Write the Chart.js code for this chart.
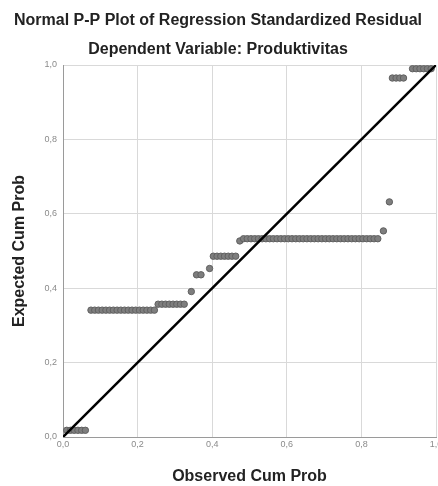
<!DOCTYPE html>
<html>
<head>
<meta charset="utf-8">
<script src="https://cdn.jsdelivr.net/npm/chart.js@4"></script>
<style>
html,body{margin:0;padding:0;background:#fff;}
#wrap{width:438px;height:486px;position:relative;}
</style>
</head>
<body>
<div id="wrap"><canvas id="c" width="438" height="486"></canvas></div>
<script>
const chartTitle = "Normal P-P Plot of Regression Standardized Residual";
const chartSubtitle = "Dependent Variable: Produktivitas";
const xTitle = "Observed Cum Prob";
const yTitle = "Expected Cum Prob";
const tickValues = [0, 0.2, 0.4, 0.6, 0.8, 1.0];
const tickLabels = ["0,0", "0,2", "0,4", "0,6", "0,8", "1,0"];

const observed = [
  0.010, 0.020, 0.030, 0.040, 0.050, 0.060,
  0.075, 0.085, 0.095, 0.105, 0.115, 0.125, 0.135, 0.145, 0.155, 0.165, 0.175, 0.185, 0.195, 0.205, 0.215, 0.225, 0.235, 0.245,
  0.255, 0.265, 0.275, 0.285, 0.295, 0.305, 0.315, 0.325,
  0.344,
  0.358, 0.370,
  0.393,
  0.403, 0.413, 0.423, 0.433, 0.443, 0.453, 0.463,
  0.474,
  0.484, 0.494, 0.504, 0.514, 0.524, 0.534, 0.544, 0.554, 0.564, 0.574, 0.584, 0.594, 0.604, 0.614, 0.624, 0.634, 0.644, 0.654, 0.664,
  0.674, 0.684, 0.694, 0.704, 0.714, 0.724, 0.734, 0.744, 0.754, 0.764, 0.774, 0.784, 0.794, 0.804, 0.814, 0.824, 0.834, 0.844,
  0.859,
  0.875,
  0.883, 0.893, 0.903, 0.913,
  0.937, 0.947, 0.957, 0.967, 0.977, 0.987
];
const expected = [
  0.018, 0.018, 0.018, 0.018, 0.018, 0.018,
  0.341, 0.341, 0.341, 0.341, 0.341, 0.341, 0.341, 0.341, 0.341, 0.341, 0.341, 0.341, 0.341, 0.341, 0.341, 0.341, 0.341, 0.341,
  0.357, 0.357, 0.357, 0.357, 0.357, 0.357, 0.357, 0.357,
  0.391,
  0.436, 0.436,
  0.453,
  0.486, 0.486, 0.486, 0.486, 0.486, 0.486, 0.486,
  0.527,
  0.533, 0.533, 0.533, 0.533, 0.533, 0.533, 0.533, 0.533, 0.533, 0.533, 0.533, 0.533, 0.533, 0.533, 0.533, 0.533, 0.533, 0.533, 0.533,
  0.533, 0.533, 0.533, 0.533, 0.533, 0.533, 0.533, 0.533, 0.533, 0.533, 0.533, 0.533, 0.533, 0.533, 0.533, 0.533, 0.533, 0.533,
  0.554,
  0.632,
  0.965, 0.965, 0.965, 0.965,
  0.990, 0.990, 0.990, 0.990, 0.990, 0.990
];
const refLine = [0, 1];

const FONT = "'Liberation Sans', Arial, sans-serif";

const points = observed.map((x, i) => ({x: x, y: expected[i]}));
const diag = refLine.map(v => ({x: v, y: v}));

function tickCb(value) {
  const i = tickValues.findIndex(t => Math.abs(t - value) < 1e-6);
  return i >= 0 ? tickLabels[i] : '';
}

new Chart(document.getElementById('c'), {
  type: 'scatter',
  data: {
    datasets: [
      {
        type: 'line',
        data: diag,
        borderColor: '#000',
        borderWidth: 2.5,
        pointRadius: 0,
        fill: false,
        order: 0
      },
      {
        data: points,
        backgroundColor: '#7e7e7e',
        borderColor: '#606060',
        borderWidth: 1,
        pointRadius: 3.2,
        order: 1
      }
    ]
  },
  options: {
    responsive: false,
    animation: false,
    devicePixelRatio: 1,
    layout: { autoPadding: false, padding: { top: 0, left: 0, right: 2, bottom: 0 } },
    plugins: {
      legend: { display: false },
      tooltip: { enabled: false },
      title: {
        display: true,
        text: chartTitle,
        color: '#222',
        font: { family: FONT, size: 16, weight: 'bold' },
        padding: { top: 10.5, bottom: 6 }
      },
      subtitle: {
        display: true,
        text: chartSubtitle,
        color: '#222',
        font: { family: FONT, size: 16, weight: 'bold' },
        padding: { top: 4.5, bottom: 5.6 }
      }
    },
    scales: {
      x: {
        type: 'linear',
        min: 0, max: 1,
        afterBuildTicks: s => { s.ticks = tickValues.map(v => ({value: v})); },
        ticks: { callback: tickCb, color: '#8a8a8a', font: { family: FONT, size: 9 }, padding: 2, maxRotation: 0 },
        grid: { color: '#d9d9d9', lineWidth: 1, drawTicks: false },
        border: { color: '#9a9a9a', width: 1 },
        title: { display: true, text: xTitle, color: '#222', font: { family: FONT, size: 16, weight: 'bold' }, padding: { top: 0, bottom: 0 } },
        afterFit: s => { s.height = 49; s.paddingLeft = 0; s.paddingRight = 0; }
      },
      y: {
        type: 'linear',
        min: 0, max: 1,
        afterBuildTicks: s => { s.ticks = tickValues.map(v => ({value: v})); },
        ticks: { callback: tickCb, color: '#8a8a8a', font: { family: FONT, size: 9 }, padding: 6 },
        grid: { color: '#d9d9d9', lineWidth: 1, drawTicks: false },
        border: { color: '#9a9a9a', width: 1 },
        title: { display: true, text: yTitle, color: '#222', font: { family: FONT, size: 16, weight: 'bold' }, padding: { top: 10, bottom: 0 } },
        afterFit: s => { s.width = 63; s.paddingTop = 0; s.paddingBottom = 0; }
      }
    }
  }
});
</script>
</body>
</html>
